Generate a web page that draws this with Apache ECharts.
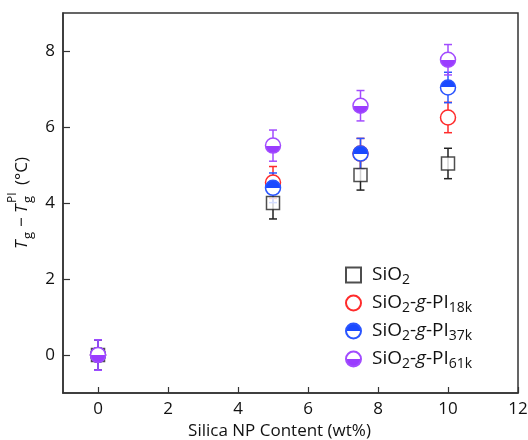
<!DOCTYPE html>
<html>
<head>
<meta charset="utf-8">
<script src="https://cdn.jsdelivr.net/npm/echarts@6/dist/echarts.min.js"></script>
<style>
  html, body { margin: 0; padding: 0; background: #fff; }
  #chart { width: 528px; height: 440px; }
</style>
</head>
<body>
<div id="chart"></div>
<script>
// silica content (wt%)
var content = [0, 5, 7.5, 10];

// Tg - Tg(PI) in degC and error bars
var sio2 = [0, 4.0, 4.74, 5.04];
var sio2Err = [0.4, 0.42, 0.4, 0.4];
var pi18k = [0, 4.54, 5.3, 6.25];
var pi18kErr = [0.4, 0.42, 0.4, 0.4];
var pi37k = [0, 4.4, 5.3, 7.04];
var pi37kErr = [0.4, 0.39, 0.4, 0.4];
var pi61k = [0, 5.51, 6.56, 7.77];
var pi61kErr = [0.4, 0.41, 0.4, 0.4];

var xTicks = [0, 2, 4, 6, 8, 10, 12];
var yTicks = [0, 2, 4, 6, 8];

var font = 'Open Sans';
var axisColor = '#333';
var txt = '#111';

var myChart = echarts.init(document.getElementById('chart'));

function pairs(ys) {
    return ys.map(function (y, i) { return [content[i], y]; });
}
function errPairs(ys, errs) {
    return ys.map(function (y, i) { return [content[i], y - errs[i], y + errs[i]]; });
}
function halfFill(color, topFilled) {
    var a = topFilled ? color : '#fff';
    var b = topFilled ? '#fff' : color;
    return {
        type: 'linear', x: 0, y: 0, x2: 0, y2: 1,
        colorStops: [
            {offset: 0, color: a}, {offset: 0.5, color: a},
            {offset: 0.5, color: b}, {offset: 1, color: b}
        ]
    };
}
function errorBars(ys, errs, color) {
    return {
        type: 'custom',
        data: errPairs(ys, errs),
        encode: {x: 0, y: [1, 2]},
        silent: true,
        renderItem: function (params, api) {
            var lo = api.coord([api.value(0), api.value(1)]);
            var hi = api.coord([api.value(0), api.value(2)]);
            var w = 4;
            var st = {stroke: color, lineWidth: 1.5};
            return {
                type: 'group',
                children: [
                    {type: 'line', shape: {x1: lo[0], y1: lo[1], x2: hi[0], y2: hi[1]}, style: st},
                    {type: 'line', shape: {x1: lo[0] - w, y1: lo[1], x2: lo[0] + w, y2: lo[1]}, style: st},
                    {type: 'line', shape: {x1: hi[0] - w, y1: hi[1], x2: hi[0] + w, y2: hi[1]}, style: st}
                ]
            };
        }
    };
}

var labels = {
    'SiO2': '{pad|}SiO{sub|2}',
    'SiO2-g-PI18k': '{pad|}SiO{sub|2}-{it|g}-PI{sub|18k}',
    'SiO2-g-PI37k': '{pad|}SiO{sub|2}-{it|g}-PI{sub|37k}',
    'SiO2-g-PI61k': '{pad|}SiO{sub|2}-{it|g}-PI{sub|61k}'
};

var option = {
    backgroundColor: '#fff',
    animation: false,
    textStyle: {fontFamily: font},
    grid: {
        left: 63, right: 10, top: 13, bottom: 47,
        show: true, borderColor: axisColor, borderWidth: 1.5,
        outerBoundsMode: 'none'
    },
    legend: {
        data: ['SiO2', 'SiO2-g-PI18k', 'SiO2-g-PI37k', 'SiO2-g-PI61k'],
        orient: 'vertical',
        left: 345, top: 263,
        padding: 0,
        itemWidth: 15, itemHeight: 15,
        itemGap: 4,
        formatter: function (name) { return labels[name]; },
        textStyle: {
            fontFamily: font, fontSize: 19, color: txt,
            lineHeight: 20,
            rich: {
                pad: {width: 6},
                sub: {fontFamily: font, fontSize: 14, lineHeight: 14, padding: [10, 0, 0, 0], color: txt},
                it: {fontFamily: font, fontSize: 19, fontStyle: 'italic', color: txt}
            }
        }
    },
    xAxis: {
        type: 'value',
        min: -1, max: 12,
        name: 'Silica NP Content (wt%)',
        nameLocation: 'middle',
        nameGap: 25,
        nameTextStyle: {fontFamily: font, fontSize: 17, color: txt, padding: [0, 22, 0, 0]},
        axisLine: {onZero: false, lineStyle: {color: axisColor, width: 1.5}},
        axisTick: {inside: true, length: 6, customValues: xTicks, lineStyle: {color: axisColor, width: 1.2}},
        axisLabel: {customValues: xTicks, fontSize: 17, color: txt, margin: 8, fontFamily: font},
        splitLine: {show: false}
    },
    yAxis: {
        type: 'value',
        min: -1, max: 9,
        axisLine: {onZero: false, lineStyle: {color: axisColor, width: 1.5}},
        axisTick: {inside: true, length: 7, customValues: yTicks, lineStyle: {color: axisColor, width: 1.2}},
        axisLabel: {customValues: yTicks, fontSize: 17, color: txt, margin: 8, fontFamily: font},
        splitLine: {show: false}
    },
    graphic: [{
        type: 'group',
        x: 22, y: 249,
        rotation: Math.PI / 2,
        children: [
            {type: 'text', x: 0, y: 0, style: {text: 'T', fontFamily: font, fontSize: 17, fontStyle: 'italic', fill: txt, verticalAlign: 'middle'}},
            {type: 'text', x: 10, y: 6, style: {text: 'g', fontFamily: font, fontSize: 13, fill: txt, verticalAlign: 'middle'}},
            {type: 'text', x: 22, y: 0, style: {text: '\u2212', fontFamily: font, fontSize: 17, fill: txt, verticalAlign: 'middle'}},
            {type: 'text', x: 36, y: 0, style: {text: 'T', fontFamily: font, fontSize: 17, fontStyle: 'italic', fill: txt, verticalAlign: 'middle'}},
            {type: 'text', x: 46, y: 6, style: {text: 'g', fontFamily: font, fontSize: 13, fill: txt, verticalAlign: 'middle'}},
            {type: 'text', x: 46, y: -9, style: {text: 'PI', fontFamily: font, fontSize: 12, fill: txt, verticalAlign: 'middle'}},
            {type: 'text', x: 64, y: 0, style: {text: '(\u00B0C)', fontFamily: font, fontSize: 17, fill: txt, verticalAlign: 'middle'}}
        ]
    }],
    series: [
        errorBars(sio2, sio2Err, '#222'),
        {
            name: 'SiO2', type: 'scatter', data: pairs(sio2),
            symbol: 'rect', symbolSize: 13,
            itemStyle: {color: '#fff', borderColor: '#222', borderWidth: 1.5}
        },
        errorBars(pi18k, pi18kErr, '#ff2b2b'),
        {
            name: 'SiO2-g-PI18k', type: 'scatter', data: pairs(pi18k),
            symbol: 'circle', symbolSize: 15,
            itemStyle: {color: '#fff', borderColor: '#ff2b2b', borderWidth: 1.5, opacity: 1}
        },
        errorBars(pi37k, pi37kErr, '#2a55ff'),
        {
            name: 'SiO2-g-PI37k', type: 'scatter', data: pairs(pi37k),
            symbol: 'circle', symbolSize: 15,
            itemStyle: {color: halfFill('#1a49ff', true), borderColor: '#2a55ff', borderWidth: 1.5, opacity: 1}
        },
        errorBars(pi61k, pi61kErr, '#a24cff'),
        {
            name: 'SiO2-g-PI61k', type: 'scatter', data: pairs(pi61k),
            symbol: 'circle', symbolSize: 15,
            itemStyle: {color: halfFill('#9a3cff', false), borderColor: '#a24cff', borderWidth: 1.5, opacity: 1}
        }
    ]
};

myChart.setOption(option);
</script>
</body>
</html>
